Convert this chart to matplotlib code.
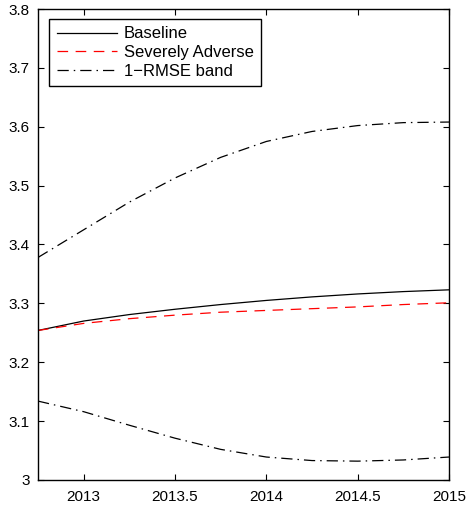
import matplotlib
matplotlib.use("Agg")
import matplotlib.pyplot as plt
import numpy as np

# quarterly horizon
quarters = [2012.75, 2013.0, 2013.25, 2013.5, 2013.75, 2014.0, 2014.25, 2014.5, 2014.75, 2015.0]

baseline = [3.254, 3.270, 3.281, 3.290, 3.298, 3.305, 3.311, 3.316, 3.320, 3.323]
severely_adverse = [3.254, 3.266, 3.274, 3.280, 3.285, 3.288, 3.291, 3.294, 3.298, 3.301]
band_upper = [3.378, 3.425, 3.472, 3.513, 3.548, 3.575, 3.592, 3.602, 3.607, 3.608]
band_lower = [3.134, 3.116, 3.093, 3.071, 3.052, 3.039, 3.033, 3.032, 3.034, 3.039]

xticks = [2013, 2013.5, 2014, 2014.5, 2015]
xtick_labels = ["2013", "2013.5", "2014", "2014.5", "2015"]
yticks = [3.0, 3.1, 3.2, 3.3, 3.4, 3.5, 3.6, 3.7, 3.8]
ytick_labels = ["3", "3.1", "3.2", "3.3", "3.4", "3.5", "3.6", "3.7", "3.8"]

plt.rcParams['font.family'] = ['Liberation Sans', 'DejaVu Sans']

fig = plt.figure(figsize=(4.7, 5.09), dpi=100)
ax = fig.add_axes([0.0809, 0.057, 0.8744, 0.9253])

ax.plot(quarters, baseline, color='black', lw=0.9, label='Baseline')
ax.plot(quarters, severely_adverse, color='red', lw=0.9, ls=(0, (8.5, 6)), label='Severely Adverse')
ax.plot(quarters, band_upper, color='black', lw=0.9, ls=(0, (9, 4, 1.2, 4)), label='1\u2212RMSE band')
ax.plot(quarters, band_lower, color='black', lw=0.9, ls=(0, (9, 4, 1.2, 4)))

ax.set_xlim(2012.75, 2015)
ax.set_ylim(3.0, 3.8)
ax.set_xticks(xticks)
ax.set_xticklabels(xtick_labels)
ax.set_yticks(yticks)
ax.set_yticklabels(ytick_labels)

#matlab style ticks
ax.tick_params(direction='in', top=True, right=True, length=4, width=0.8, labelsize=11)
ax.tick_params(axis='x', pad=7)
ax.tick_params(axis='y', pad=6)
for s in ax.spines.values():
    s.set_linewidth(1.0)

leg = ax.legend(loc='upper left', bbox_to_anchor=(0.027, 0.979), fontsize=12,
                fancybox=False, edgecolor='black', framealpha=1, handlelength=3.6,
                handletextpad=0.45, borderpad=0.45, labelspacing=0.22, borderaxespad=0)
leg.get_frame().set_linewidth(1.0)

fig.savefig('out.png', dpi=100)
plt.close(fig)
